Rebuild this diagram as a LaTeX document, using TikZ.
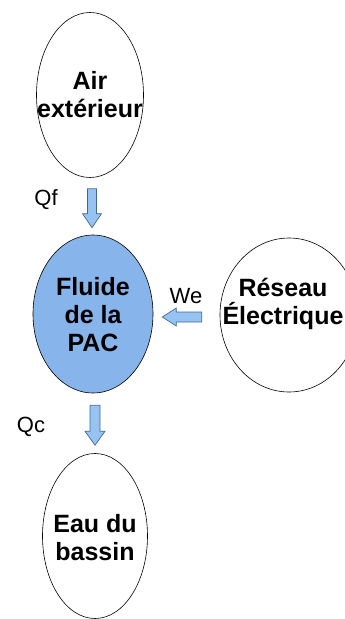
\documentclass[tikz,border=0pt]{standalone}
\usepackage{fontspec}
\setmainfont{Liberation Sans}
\usetikzlibrary{shapes.geometric,calc}
\definecolor{pacblue}{RGB}{135,180,235}
\definecolor{arrowfill}{RGB}{150,195,242}
\definecolor{arrowline}{RGB}{70,105,145}
\tikzset{
  bubble/.style={draw=black, line width=0.6pt, ellipse, inner sep=0pt},
  btext/.style={align=center, font=\fontsize{25}{28}\selectfont\bfseries, inner sep=0pt},
  flowlabel/.style={font=\fontsize{22}{24}\selectfont, inner sep=0pt},
  barrow/.style={fill=arrowfill, draw=arrowline, line width=0.7pt, line join=miter}
}
\begin{document}
\begin{tikzpicture}[x=1pt,y=-1pt]
\useasboundingbox (0,0) rectangle (345,619);
\node[bubble, minimum width=107pt, minimum height=165pt] (air) at (90,95) {};
\node[btext] (airt) at (air.center) {Air\\extérieur};
\node[bubble, fill=pacblue, minimum width=120pt, minimum height=158pt] (fl) at (93,314) {};
\node[btext] (flt) at ($(fl.center)+(0,1)$) {Fluide\\de la\\PAC};
\node[bubble, minimum width=138pt, minimum height=154pt] (res) at (289,315) {};
\node[btext] (rest) at ($(res.center)+(-6,-11)$) {Réseau\\Électrique};
\node[bubble, minimum width=105pt, minimum height=165pt] (eau) at (95,536) {};
\node[btext] (eaut) at ($(eau.center)+(0,2)$) {Eau du\\bassin};
% Qf arrow
\coordinate (qf1) at ($(air.south)+(2,11)$);
\coordinate (qf2) at ($(fl.north)+(-1,-7)$);
\draw[barrow] ($(qf1)+(-4.5,0)$) -- ($(qf1)+(4.5,0)$) -- ($(qf2)+(4.5,-14)$) -- ($(qf2)+(9.5,-14)$) -- (qf2) -- ($(qf2)+(-9.5,-14)$) -- ($(qf2)+(-4.5,-14)$) -- cycle;
\node[flowlabel] (qf) at (46,200) {Qf};
% Qc arrow
\coordinate (qc1) at ($(fl.south)+(2,12)$);
\coordinate (qc2) at ($(eau.north)+(0,-8)$);
\draw[barrow] ($(qc1)+(-5,0)$) -- ($(qc1)+(5,0)$) -- ($(qc2)+(5,-14)$) -- ($(qc2)+(10,-14)$) -- (qc2) -- ($(qc2)+(-10,-14)$) -- ($(qc2)+(-5,-14)$) -- cycle;
\node[flowlabel] (qc) at (31,427) {Qc};
% We arrow
\coordinate (we1) at ($(res.west)+(-18,2)$);
\coordinate (we2) at ($(fl.east)+(9,3)$);
\draw[barrow] ($(we1)+(0,-5)$) -- ($(we1)+(0,5)$) -- ($(we2)+(14,5)$) -- ($(we2)+(14,9)$) -- (we2) -- ($(we2)+(14,-9)$) -- ($(we2)+(14,-5)$) -- cycle;
\node[flowlabel] (we) at (186,296) {We};
\end{tikzpicture}
\end{document}
